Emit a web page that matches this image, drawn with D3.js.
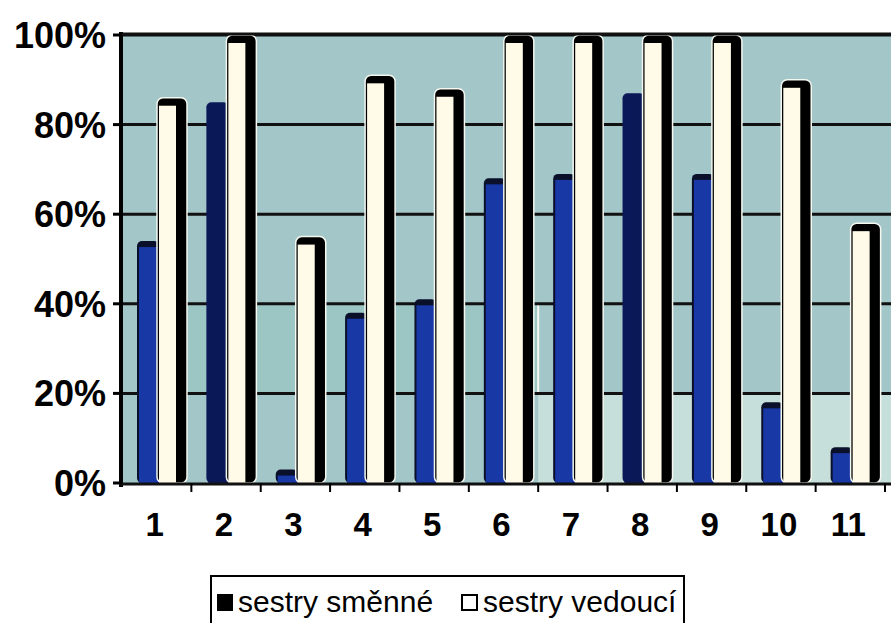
<!DOCTYPE html>
<html>
<head>
<meta charset="utf-8">
<script src="https://cdn.jsdelivr.net/npm/d3@7"></script>
<style>
  body { margin: 0; background: #fff; }
  text { font-family: "Liberation Sans", Arial, sans-serif; }
</style>
</head>
<body>
<svg id="chart" width="891" height="623"></svg>
<script>
/*
 * Data.
 */
let categories = ['1', '2', '3', '4', '5', '6', '7', '8', '9', '10', '11'];
let smenne = [54, 85, 3, 38, 41, 68, 69, 87, 69, 18, 8];
let vedouci = [86, 100, 55, 91, 88, 100, 100, 100, 100, 90, 58];
let y_ticks = [0, 20, 40, 60, 80, 100];
let legend_labels = ['sestry směnné', 'sestry vedoucí'];

let svg = d3.select('#chart');

let plot_left = 122, plot_right = 885, plot_top = 35, plot_bottom = 483;
let wall_right = 891;

let x = d3.scaleBand().domain(categories).range([plot_left, plot_right]).padding(0);
let y = d3.scaleLinear().domain([0, 100]).range([plot_bottom, plot_top]);
let bw = x.bandwidth();

/*
 * Plot background (back wall).
 */
svg.append('rect')
  .attr('x', plot_left)
  .attr('y', plot_top)
  .attr('width', wall_right - plot_left)
  .attr('height', plot_bottom - plot_top)
  .style('fill', '#a3c6c9');

// flatter panel in the middle of the scan
svg.append('rect')
  .attr('x', x('2') - 6)
  .attr('y', y(40))
  .attr('width', x('7') - x('2') + 6)
  .attr('height', y(20) - y(40))
  .style('fill', '#9cc6c4')
  .style('stroke', '#f4f8f0')
  .style('stroke-width', 2);

// lighter floor band on the right half, like the scan
svg.append('rect')
  .attr('x', x('7'))
  .attr('y', y(20))
  .attr('width', wall_right - x('7'))
  .attr('height', plot_bottom - y(20))
  .style('fill', '#c7dfda');

// grid lines
svg.selectAll('line.grid')
  .data(y_ticks.filter(d => d > 0))
  .enter().append('line')
  .attr('class', 'grid')
  .attr('x1', plot_left)
  .attr('x2', wall_right)
  .attr('y1', d => y(d))
  .attr('y2', d => y(d))
  .style('stroke', '#111')
  .style('stroke-width', 3);

/*
 * Bars: blue front series with a dark cap, cream series with a black 3D side.
 */
let g = svg.append('g');

g.selectAll('rect.smenne_cap')
  .data(smenne)
  .enter().append('rect')
  .attr('class', 'smenne_cap')
  .attr('x', (d, i) => x(categories[i]) + 15)
  .attr('y', d => y(d))
  .attr('width', 22)
  .attr('height', d => plot_bottom - y(d))
  .attr('rx', 5)
  .style('fill', (d, i) => (i == 1 || i == 7) ? '#0b1858' : '#0a0f2a');

g.selectAll('rect.smenne')
  .data(smenne)
  .enter().append('rect')
  .attr('class', 'smenne')
  .attr('x', (d, i) => x(categories[i]) + 17)
  .attr('y', d => Math.min(y(d) + 6, plot_bottom))
  .attr('width', 20)
  .attr('height', d => Math.max(plot_bottom - y(d) - 6, 0))
  .style('fill', (d, i) => (i == 1 || i == 7) ? '#0b1858' : '#1838a6');

g.selectAll('rect.vedouci_side')
  .data(vedouci)
  .enter().append('rect')
  .attr('class', 'vedouci_side')
  .attr('x', (d, i) => x(categories[i]) + 35)
  .attr('y', d => y(d))
  .attr('width', 30)
  .attr('height', d => plot_bottom - y(d))
  .attr('rx', 6)
  .style('fill', '#000')
  .style('stroke', '#f4f8f0')
  .style('stroke-width', 1.5);

g.selectAll('rect.vedouci')
  .data(vedouci)
  .enter().append('rect')
  .attr('class', 'vedouci')
  .attr('x', (d, i) => x(categories[i]) + 37)
  .attr('y', d => y(d) + 8)
  .attr('width', 17)
  .attr('height', d => plot_bottom - y(d) - 8)
  .style('fill', '#fffbe8');

/*
 * Axes.
 */
svg.append('line')
  .attr('x1', plot_left - 1).attr('x2', plot_left - 1)
  .attr('y1', plot_top - 3).attr('y2', plot_bottom + 4)
  .style('stroke', '#000')
  .style('stroke-width', 4);

svg.append('line')
  .attr('x1', plot_left).attr('x2', wall_right)
  .attr('y1', plot_top - 1).attr('y2', plot_top - 1)
  .style('stroke', '#111')
  .style('stroke-width', 3);

svg.append('line')
  .attr('x1', plot_left - 3).attr('x2', wall_right)
  .attr('y1', plot_bottom + 1).attr('y2', plot_bottom + 1)
  .style('stroke', '#111')
  .style('stroke-width', 3);

let y_axis = svg.append('g');
y_axis.selectAll('line')
  .data(y_ticks)
  .enter().append('line')
  .attr('x1', plot_left - 9).attr('x2', plot_left)
  .attr('y1', d => y(d)).attr('y2', d => y(d))
  .style('stroke', '#000')
  .style('stroke-width', 3);

y_axis.selectAll('text')
  .data(y_ticks)
  .enter().append('text')
  .attr('x', 106)
  .attr('y', d => y(d))
  .attr('dy', '0.36em')
  .attr('text-anchor', 'end')
  .style('font-size', '36px')
  .style('font-weight', 'bold')
  .text(d => d + '%');

let x_axis = svg.append('g');
x_axis.selectAll('line')
  .data(categories)
  .enter().append('line')
  .attr('x1', d => x(d) + bw).attr('x2', d => x(d) + bw)
  .attr('y1', plot_bottom).attr('y2', plot_bottom + 9)
  .style('stroke', '#000')
  .style('stroke-width', 2);

x_axis.selectAll('text')
  .data(categories)
  .enter().append('text')
  .attr('x', d => x(d) + bw / 2 - 2)
  .attr('y', 536)
  .attr('text-anchor', 'middle')
  .style('font-size', '33px')
  .style('font-weight', 'bold')
  .text(d => d);

/*
 * Legend.
 */
let legend = svg.append('g');
legend.append('rect')
  .attr('x', 211).attr('y', 576)
  .attr('width', 473).attr('height', 60)
  .style('fill', '#fff')
  .style('stroke', '#000')
  .style('stroke-width', 2);

legend.append('rect')
  .attr('x', 217).attr('y', 594)
  .attr('width', 16).attr('height', 17)
  .style('fill', '#000');

legend.append('text')
  .attr('x', 238).attr('y', 612)
  .style('font-size', '30px')
  .text(legend_labels[0]);

legend.append('rect')
  .attr('x', 462).attr('y', 595)
  .attr('width', 15).attr('height', 15)
  .style('fill', '#fff')
  .style('stroke', '#000')
  .style('stroke-width', 2);

legend.append('text')
  .attr('x', 483).attr('y', 612)
  .style('font-size', '30px')
  .text(legend_labels[1]);
</script>
</body>
</html>
